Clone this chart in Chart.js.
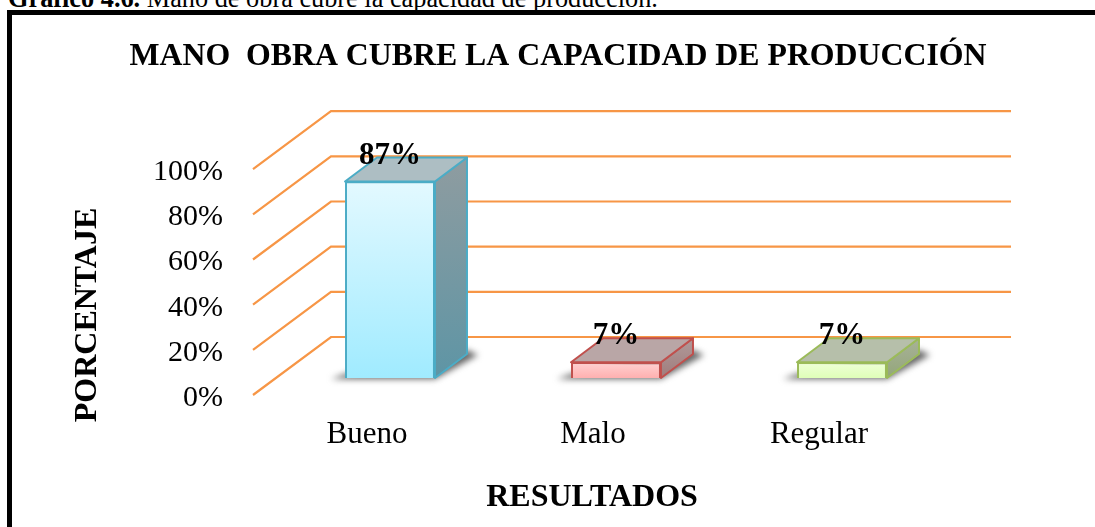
<!DOCTYPE html>
<html>
<head>
<meta charset="utf-8">
<script src="https://cdn.jsdelivr.net/npm/chart.js@4"></script>
<style>
  html, body { margin: 0; padding: 0; background: #fff; overflow: hidden; }
  #caption { position: absolute; left: 8px; top: -14px; font: 26.3px/26px "Liberation Serif", serif; color: #000; white-space: nowrap; }
  #frame { position: absolute; left: 7px; top: 10px; width: 1200px; height: 700px; border: 5px solid #000; }
  #chart { position: absolute; left: 0; top: 0; }
</style>
</head>
<body>
<div id="caption"><b>Gráfico 4.6.</b> Mano de obra cubre la capacidad de producción.</div>
<div id="frame"></div>
<canvas id="chart" width="1095" height="527"></canvas>
<script>
const categories = ['Bueno', 'Malo', 'Regular'];
const values = [87, 7, 7];
const tickStep = 20;
const chartTitle = 'MANO  OBRA CUBRE LA CAPACIDAD DE PRODUCCIÓN';
const yTitle = 'PORCENTAJE';
const xTitle = 'RESULTADOS';

const serif = '"Liberation Serif", serif';
const gridColor = '#F79646';
const depthX = 32, depthY = -24;

// front, top and side colours of each 3D bar
const barStyles = [
  { border: '#4BACC6', front: ['#E3F9FF', '#A0EBFF'], top: '#ADBEC3', side: ['#8F9CA0', '#5E95A5'] },
  { border: '#C0504D', front: ['#FFD2D2', '#FFB0B0'], top: '#B9A6A6', side: ['#B09A9A', '#A07C7C'] },
  { border: '#9BBB59', front: ['#EFFFD8', '#DFFFB8'], top: '#B6BFAA', side: ['#A8B298', '#93A67A'] }
];

function poly(ctx, pts, fill, stroke) {
  ctx.beginPath();
  pts.forEach((p, i) => i ? ctx.lineTo(p[0], p[1]) : ctx.moveTo(p[0], p[1]));
  ctx.closePath();
  ctx.fillStyle = fill;
  ctx.fill();
  if (stroke) {
    ctx.strokeStyle = stroke;
    ctx.lineWidth = 2;
    ctx.lineJoin = 'round';
    ctx.stroke();
  }
}

const wall3d = {
  id: 'wall3d',
  beforeDatasetsDraw(chart) {
    const ctx = chart.ctx;
    const y = chart.scales.y;
    const area = chart.chartArea;

    // floor and back wall lines
    ctx.save();
    ctx.strokeStyle = gridColor;
    ctx.lineWidth = 2.2;
    y.ticks.forEach(t => {
      const py = y.getPixelForValue(t.value);
      ctx.beginPath();
      ctx.moveTo(area.left - 24, py + 17);
      ctx.lineTo(area.left + 54, py - 41);
      ctx.lineTo(area.right + 56, py - 41);
      ctx.stroke();
    });
    ctx.restore();

    // top and side of the bars, with the floor shadow
    chart.getDatasetMeta(0).data.forEach((bar, i) => {
      const s = barStyles[i];
      const x0 = bar.x - bar.width / 2, x1 = bar.x + bar.width / 2;
      ctx.save();
      ctx.filter = 'blur(3px)';
      poly(ctx, [[x0 - 14, bar.base + 1], [x1, bar.base + 1], [x1 + depthX + 11, bar.base + depthY + 1], [x1 + depthX, bar.base + depthY - 4], [x0, bar.base - 4]], '#666');
      ctx.restore();

      const grad = ctx.createLinearGradient(0, bar.y + depthY, 0, bar.base);
      grad.addColorStop(0, s.side[0]);
      grad.addColorStop(1, s.side[1]);
      poly(ctx, [[x1, bar.y], [x1 + depthX, bar.y + depthY], [x1 + depthX, bar.base + depthY], [x1, bar.base]], grad, s.border);
      poly(ctx, [[x0, bar.y], [x0 + depthX, bar.y + depthY], [x1 + depthX, bar.y + depthY], [x1, bar.y]], s.top, s.border);
    });
  },
  afterDatasetsDraw(chart) {
    const ctx = chart.ctx;
    ctx.save();
    ctx.fillStyle = '#000';
    ctx.textAlign = 'center';
    ctx.textBaseline = 'alphabetic';
    ctx.font = 'bold 31px ' + serif;
    chart.getDatasetMeta(0).data.forEach((bar, i) => {
      ctx.fillText(values[i] + '%', bar.x, bar.y - 18);
    });

    // axis titles sit off-centre in the original
    ctx.textBaseline = 'middle';
    ctx.font = 'bold 32px ' + serif;
    ctx.fillText(xTitle, 592, 498);
    ctx.translate(88, 315);
    ctx.rotate(-Math.PI / 2);
    ctx.fillText(yTitle, 0, 0);
    ctx.restore();
  }
};

function frontGradient(context) {
  const s = barStyles[context.dataIndex];
  const y = context.chart.scales.y;
  const top = y.getPixelForValue(values[context.dataIndex]);
  const base = y.getPixelForValue(0);
  // the options are first resolved before the scale has its size
  if (!Number.isFinite(top) || !Number.isFinite(base)) return s.front[0];
  const grad = context.chart.ctx.createLinearGradient(0, top, 0, base);
  grad.addColorStop(0, s.front[0]);
  grad.addColorStop(1, s.front[1]);
  return grad;
}

new Chart(document.getElementById('chart'), {
  type: 'bar',
  data: {
    labels: categories,
    datasets: [{
      data: values,
      backgroundColor: frontGradient,
      borderColor: barStyles.map(s => s.border),
      borderWidth: 2,
      barPercentage: 0.398,
      categoryPercentage: 1
    }]
  },
  options: {
    responsive: false,
    animation: false,
    layout: { autoPadding: false, padding: { left: 21, right: 0, top: 0, bottom: 0 } },
    plugins: {
      legend: { display: false },
      tooltip: { enabled: false },
      title: {
        display: true,
        text: chartTitle,
        color: '#000',
        font: { family: serif, size: 31.8, weight: 'bold', lineHeight: 1.2 },
        padding: { top: 38, bottom: 76 }
      }
    },
    scales: {
      x: {
        grid: { display: false, drawTicks: false },
        border: { display: false },
        ticks: { color: '#000', padding: 38, labelOffset: -23, font: { family: serif, size: 31 } },
        afterFit(scale) { scale.height = 149; }
      },
      y: {
        min: 0,
        max: 100,
        grid: { display: false, drawTicks: false },
        border: { display: false },
        ticks: {
          stepSize: tickStep,
          color: '#000',
          padding: 54,
          labelOffset: 20,
          font: { family: serif, size: 30 },
          callback: v => v + '%'
        },
        afterFit(scale) { scale.width = 256; }
      },
      // empty axis that only keeps the room on the right of the bars
      spacer: {
        type: 'linear',
        position: 'right',
        grid: { display: false, drawTicks: false },
        border: { display: false },
        ticks: { display: false },
        afterFit(scale) { scale.width = 140; }
      }
    }
  },
  plugins: [wall3d]
});
</script>
</body>
</html>
